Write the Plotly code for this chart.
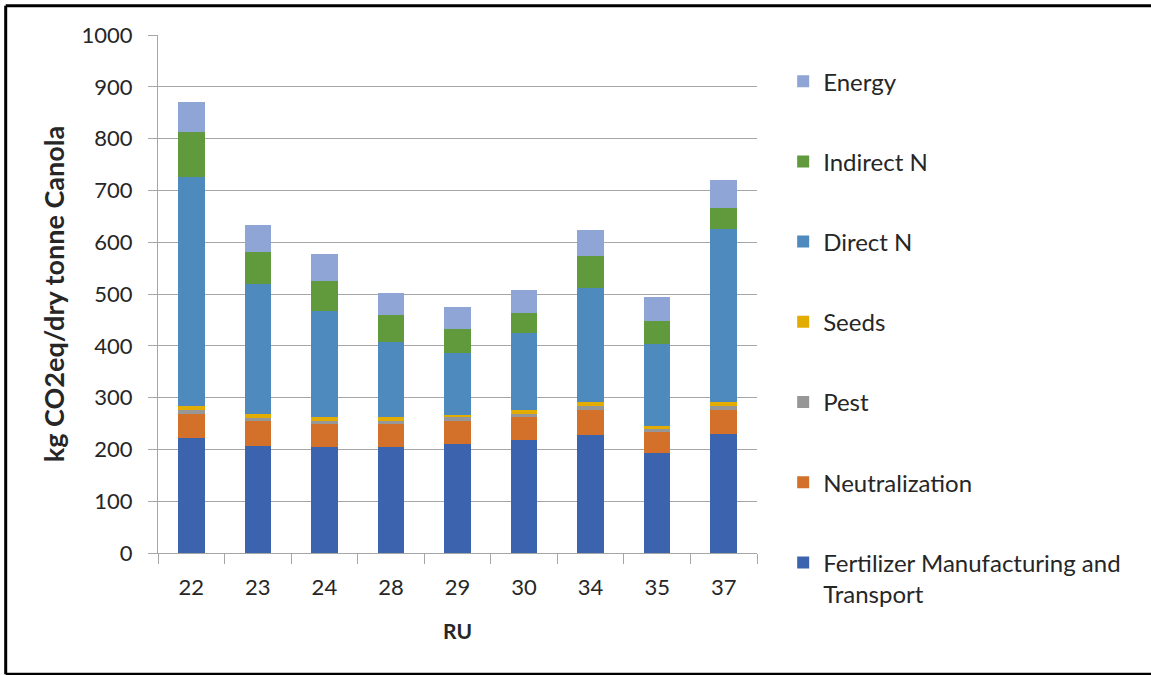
import plotly.graph_objects as go

categories = ["22", "23", "24", "28", "29", "30", "34", "35", "37"]

fertilizer = [222, 207.5, 205, 205, 210, 218, 228, 193, 230]
neutralization = [47, 46.5, 44.5, 44.5, 44, 44, 48.6, 39.7, 46.6]
pest = [8, 6, 5.5, 5.5, 8, 7, 7.4, 7.3, 7.4]
seeds = [7, 7.5, 7.5, 7.5, 5, 7.6, 8, 5, 8]
direct_n = [441, 252.5, 205.5, 145, 118.5, 149, 220, 158, 334]
indirect_n = [87, 62, 57, 52.5, 47.5, 37.5, 62, 45, 40]
energy = [59, 52, 52, 42, 41.5, 44, 49.5, 46.6, 54]

series = [
    ("Fertilizer Manufacturing and<br>Transport", fertilizer, "#3C64AE"),
    ("Neutralization", neutralization, "#D3712B"),
    ("Pest", pest, "#979797"),
    ("Seeds", seeds, "#E3AC00"),
    ("Direct N", direct_n, "#4F8ABE"),
    ("Indirect N", indirect_n, "#61993D"),
    ("Energy", energy, "#8FA5D6"),
]

FONT = "Lato"
TXT = "#262626"
GRID = "#A6A6A6"

fig = go.Figure()
n = len(series)
for i, (name, vals, col) in enumerate(series):
    fig.add_trace(go.Bar(
        x=categories, y=vals, name=name, marker_color=col,
        marker_line_width=0, legendgroup=f"g{i}", legendrank=n - i, width=0.4,
    ))

fig.update_layout(
    width=1151, height=675,
    barmode="stack",
    paper_bgcolor="white", plot_bgcolor="white",
    margin=dict(l=158, r=394, t=35, b=122, autoexpand=False),
    font=dict(family=FONT, size=22, color=TXT),
    legend=dict(
        x=1.0437, xanchor="left", y=0.9535, yanchor="top",
        traceorder="grouped", tracegroupgap=46, maxheight=660,
        font=dict(family=FONT, size=24, color=TXT),
        bgcolor="rgba(0,0,0,0)", valign="top",
    ),
    xaxis=dict(
        type="category", showline=True, linecolor=GRID, linewidth=1,
        ticks="outside", tickson="boundaries", ticklen=10, tickcolor=GRID,
        tickfont=dict(family=FONT, size=22, color=TXT),
        ticklabelstandoff=15,
        title=dict(text="<b>RU</b>", font=dict(family=FONT, size=21, color=TXT), standoff=24),
        showgrid=False,
    ),
    yaxis=dict(
        range=[0, 1000], dtick=100, showline=True, linecolor=GRID, linewidth=1,
        ticks="outside", ticklen=9, tickcolor=GRID,
        showgrid=True, gridcolor=GRID, gridwidth=1,
        tickfont=dict(family=FONT, size=22, color=TXT),
        ticklabelstandoff=11,
        title=dict(text="<b>kg CO2eq/dry tonne Canola</b>", font=dict(family=FONT, size=27, color=TXT), standoff=9),
        zeroline=False,
    ),
)

# outer frame: left, top and bottom edges
xl = (5.7 - 158) / 599
xr = (1151 - 158) / 599
yt = (552.7 - 5.7) / 517.7
yb = (552.7 - 674) / 517.7
for x0, y0, x1, y1 in [(xl, yb, xl, yt), (xl, yt, xr, yt), (xl, yb, xr, yb)]:
    fig.add_shape(type="line", xref="paper", yref="paper", x0=x0, y0=y0, x1=x1, y1=y1,
                  line=dict(color="black", width=3), layer="above")

fig.write_html("out.html",
               post_script="document.body.style.margin='0';document.body.style.overflow='hidden';",
               config={"displayModeBar": False})
